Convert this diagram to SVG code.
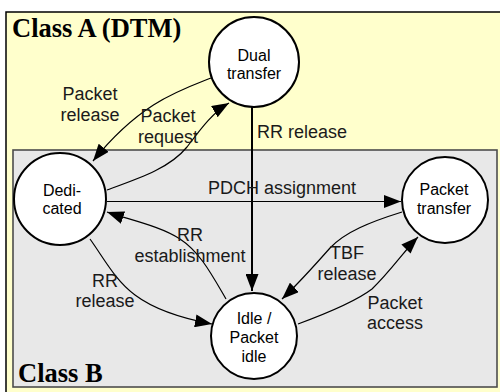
<svg xmlns="http://www.w3.org/2000/svg" width="500" height="392" viewBox="0 0 500 392">
<style>
.node{fill:#fff;stroke:#000;stroke-width:2}
.nt{font-family:"Liberation Sans",Arial,sans-serif;font-size:16px;fill:#000;text-anchor:middle}
.lb{font-family:"Liberation Sans",Arial,sans-serif;font-size:18px;fill:#1a1a1a;text-anchor:middle}
.title{font-family:"Liberation Serif","Times New Roman",serif;font-size:26.5px;font-weight:bold;fill:#000}
.c{fill:none;stroke:#000;stroke-width:1.2;marker-end:url(#ah)}
.c2{fill:none;stroke:#000;stroke-width:2;marker-end:url(#ah)}
</style>
<defs>
<marker id="ah" markerUnits="userSpaceOnUse" markerWidth="18" markerHeight="13" refX="17" refY="6.5" orient="auto">
<path d="M0,0 L17,6.5 L0,13 z" fill="#000"/>
</marker>
</defs>
<rect width="500" height="392" fill="#fff"/>
<g id="classA">
<rect x="6" y="12" width="510" height="400" fill="#FFFFCC" stroke="#000" stroke-width="1.5"/>
<text class="title" x="12" y="37">Class A (DTM)</text>
</g>
<g id="classB">
<rect x="13" y="150" width="484" height="237" fill="#E8E8E8" stroke="#4d4d4d" stroke-width="1.6"/>
<text class="title" x="18" y="382">Class B</text>
</g>
<g id="connectors">
<path class="c" d="M211,78 C178,91 140,103 93,161"/>
<path class="c" d="M107,190 C140,178 170,168 187,147 C200,130 212,113 229,103"/>
<path class="c2" d="M252,107 L252,291"/>
<path class="c" d="M107,201.5 L401,201.5"/>
<path class="c" d="M226,299 C212,275 200,252 180,239 C160,226 130,220 107,212"/>
<path class="c" d="M90,239 C105,260 115,280 135,295 C155,310 180,318 212,324"/>
<path class="c" d="M402,212 C370,222 345,232 330,248 C315,265 300,282 282,299"/>
<path class="c" d="M298,324 C325,314 355,302 372,289 C390,272 405,250 418,237"/>
</g>
<g id="labels">
<text class="lb" x="90" y="100">Packet</text>
<text class="lb" x="90" y="121">release</text>
<text class="lb" x="168" y="122">Packet</text>
<text class="lb" x="168" y="143">request</text>
<text class="lb" x="257" y="138" style="text-anchor:start">RR release</text>
<text class="lb" x="208" y="194" style="text-anchor:start">PDCH assignment</text>
<text class="lb" x="190" y="241">RR</text>
<text class="lb" x="190" y="262">establishment</text>
<text class="lb" x="105" y="287">RR</text>
<text class="lb" x="105" y="307">release</text>
<text class="lb" x="347" y="259">TBF</text>
<text class="lb" x="347" y="280">release</text>
<text class="lb" x="395" y="309">Packet</text>
<text class="lb" x="395" y="329">access</text>
</g>
<g id="node-dual">
<circle class="node" cx="254" cy="62" r="45"/>
<text class="nt" x="254" y="61">Dual</text>
<text class="nt" x="254" y="79">transfer</text>
</g>
<g id="node-dedicated">
<circle class="node" cx="60" cy="199" r="46"/>
<text class="nt" x="62" y="196">Dedi-</text>
<text class="nt" x="62" y="214">cated</text>
</g>
<g id="node-packet-transfer">
<circle class="node" cx="445" cy="200" r="43"/>
<text class="nt" x="444" y="195">Packet</text>
<text class="nt" x="444" y="214">transfer</text>
</g>
<g id="node-idle">
<circle class="node" cx="254" cy="336" r="43"/>
<text class="nt" x="254" y="324">Idle /</text>
<text class="nt" x="254" y="343">Packet</text>
<text class="nt" x="254" y="362">idle</text>
</g>
</svg>
